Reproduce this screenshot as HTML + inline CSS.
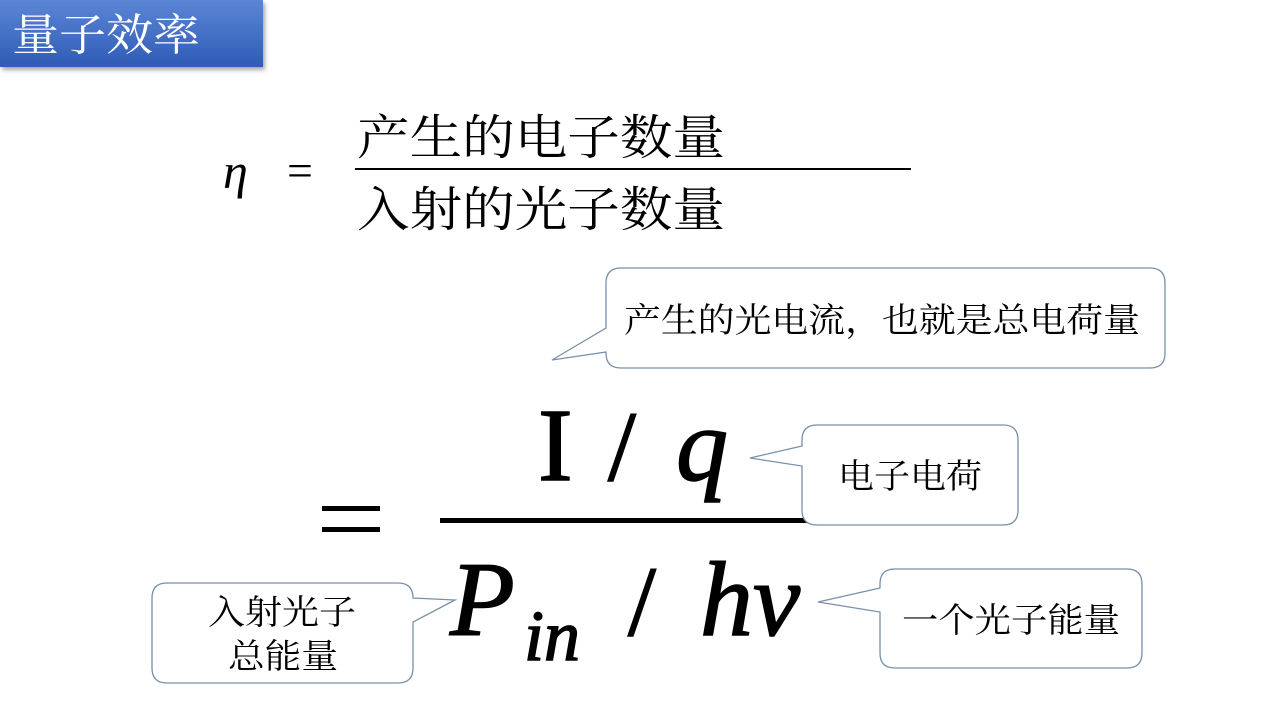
<!DOCTYPE html>
<html><head><meta charset="utf-8"><style>
html,body{margin:0;padding:0;background:#fff;width:1280px;height:720px;overflow:hidden}
.s{font-family:"Liberation Serif","Noto Serif CJK SC",serif}
.c{font-family:"Noto Serif CJK SC","WenQuanYi Zen Hei",serif}
</style></head><body>
<svg width="1280" height="720" xmlns="http://www.w3.org/2000/svg">
<defs>
<linearGradient id="g" x1="0" y1="0" x2="0" y2="1">
<stop offset="0" stop-color="#5b86d6"/><stop offset="1" stop-color="#2f5bb5"/>
</linearGradient>
<filter id="s" x="-10%" y="-10%" width="130%" height="140%"><feDropShadow dx="2" dy="3" stdDeviation="2" flood-color="#000" flood-opacity="0.35"/></filter>
</defs>
<rect x="0" y="0" width="263" height="67" fill="url(#g)" filter="url(#s)"/>
<text class="c" x="12" y="50" font-size="44" fill="#fff" textLength="188" lengthAdjust="spacingAndGlyphs">量子效率</text>

<g class="s" fill="#000">
<text class="s" x="223" y="188" font-size="50" font-style="italic">η</text>
<text class="s" x="287" y="186" font-size="46">=</text>
<text class="c" x="357" y="154" font-size="48" textLength="368" lengthAdjust="spacingAndGlyphs">产生的电子数量</text>
<rect x="355" y="168" width="556" height="2"/>
<text class="c" x="357" y="226" font-size="48" textLength="368" lengthAdjust="spacingAndGlyphs">入射的光子数量</text>

<rect x="322" y="506" width="58" height="5"/>
<rect x="322" y="527" width="58" height="5"/>
<g stroke="#000" stroke-width="1.5">
<text class="s" x="538" y="480" font-size="104">I</text>
<text class="s" x="608" y="480" font-size="100">/</text>
<text class="s" x="676" y="480" font-size="104" font-style="italic">q</text>
<text class="s" x="450" y="635" font-size="106" font-style="italic">P</text>
<text class="s" x="524" y="660" font-size="72" font-style="italic">in</text>
<text class="s" x="628" y="635" font-size="100">/</text>
<text class="s" x="700" y="635" font-size="106" font-style="italic">hv</text>
</g>
<rect x="440" y="518" width="415" height="5"/>
</g>

<g fill="#fff" stroke="#7890a8" stroke-width="1.3">
<path d="M621,268 H1150 Q1165,268 1165,283 V353 Q1165,368 1150,368 H621 Q606,368 606,353 V352 L552,360 L606,328 V283 Q606,268 621,268 Z"/>
<path d="M817,425 H1003 Q1018,425 1018,440 V510 Q1018,525 1003,525 H817 Q802,525 802,510 V466 L750,458 L802,446 V440 Q802,425 817,425 Z"/>
<path d="M167,583 H398 Q413,583 413,598 L455,600 L413,622 V668 Q413,683 398,683 H167 Q152,683 152,668 V598 Q152,583 167,583 Z"/>
<path d="M895,569 H1127 Q1142,569 1142,584 V653 Q1142,668 1127,668 H895 Q880,668 880,653 V612 L818,602 L880,588 V584 Q880,569 895,569 Z"/>
</g>
<g class="c" font-size="34" fill="#000">
<text class="c" x="624" y="332" textLength="516" lengthAdjust="spacingAndGlyphs">产生的光电流，也就是总电荷量</text>
<text class="c" x="838" y="488" textLength="144" lengthAdjust="spacingAndGlyphs">电子电荷</text>
<text class="c" x="208" y="624" textLength="148" lengthAdjust="spacingAndGlyphs">入射光子</text>
<text class="c" x="228" y="668" textLength="110" lengthAdjust="spacingAndGlyphs">总能量</text>
<text class="c" x="902" y="632" textLength="218" lengthAdjust="spacingAndGlyphs">一个光子能量</text>
</g>
</svg>
</body></html>
